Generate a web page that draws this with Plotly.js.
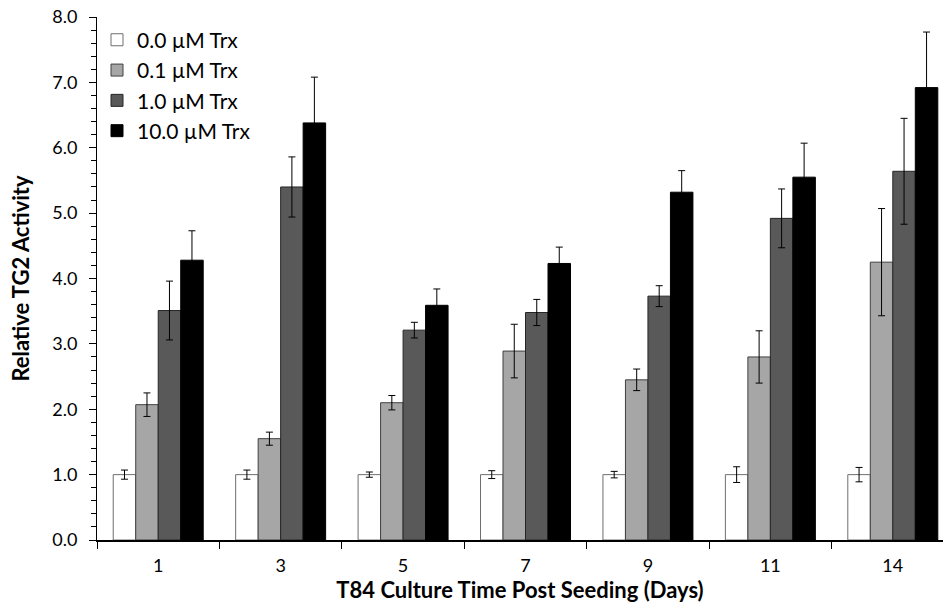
<!DOCTYPE html>
<html>
<head>
<meta charset="utf-8">
<script src="https://cdn.plot.ly/plotly-3.0.1.min.js"></script>
<style>html,body{margin:0;padding:0;background:#fff;}#chart{width:943px;height:612px;}</style>
</head>
<body>
<div id="chart"></div>
<script>
const days = ["1", "3", "5", "7", "9", "11", "14"];
const seriesNames = ["0.0 µM Trx", "0.1 µM Trx", "1.0 µM Trx", "10.0 µM Trx"];
const trx00 = [1.00, 1.00, 1.00, 1.00, 1.00, 1.00, 1.00];
const trx00err = [0.07, 0.07, 0.04, 0.06, 0.05, 0.12, 0.11];
const trx01 = [2.07, 1.55, 2.10, 2.89, 2.45, 2.80, 4.25];
const trx01err = [0.18, 0.10, 0.11, 0.41, 0.165, 0.40, 0.82];
const trx10 = [3.51, 5.40, 3.21, 3.48, 3.73, 4.92, 5.64];
const trx10err = [0.45, 0.46, 0.12, 0.20, 0.16, 0.45, 0.81];
const trx100 = [4.28, 6.38, 3.59, 4.23, 5.32, 5.55, 6.92];
const trx100err = [0.45, 0.70, 0.25, 0.25, 0.33, 0.52, 0.85];
const yTickVals = [0, 1, 2, 3, 4, 5, 6, 7, 8];

const values = [trx00, trx01, trx10, trx100];
const errors = [trx00err, trx01err, trx10err, trx100err];
const fills = ["#ffffff", "#a6a6a6", "#595959", "#000000"];
const outlines = ["#6e6e6e", "#404040", "#262626", "#000000"];

const traces = values.map((v, i) => ({
  type: "bar",
  name: seriesNames[i],
  x: days,
  y: v,
  legendgroup: "g" + i,
  marker: {color: fills[i], line: {color: outlines[i], width: 1}},
  error_y: {type: "data", array: errors[i], visible: true, color: "#000000", thickness: 1, width: 3.5}
}));

const font = "Lato, 'Open Sans', sans-serif";
const layout = {
  width: 943, height: 612,
  margin: {l: 97, r: 0, t: 17, b: 72},
  paper_bgcolor: "#ffffff", plot_bgcolor: "#ffffff",
  font: {family: font, color: "#000000", size: 18},
  barmode: "group",
  bargap: 0.265,
  bargroupgap: 0,
  showlegend: true,
  legend: {x: 0.0, y: 0.995, xanchor: "left", yanchor: "top", bgcolor: "rgba(0,0,0,0)",
           font: {family: font, size: 21, color: "#000000"}, tracegroupgap: 6, traceorder: "normal"},
  xaxis: {
    type: "category", range: [-0.5, 6.41],
    showline: true, linecolor: "#000000", linewidth: 2,
    ticks: "outside", tickson: "boundaries", ticklen: 7, tickcolor: "#000000", tickwidth: 1,
    ticklabelstandoff: 8,
    showgrid: false, zeroline: false,
    tickfont: {family: font, size: 18, color: "#000000"},
    title: {text: "<b>T84 Culture Time Post Seeding (Days)</b>", font: {family: font, size: 22, color: "#000000"}, standoff: 7}
  },
  xaxis2: {
    overlaying: "x", anchor: "y", side: "bottom", type: "linear", range: [-0.5, 6.41],
    showline: false, showgrid: false, zeroline: false,
    ticks: "inside", ticklen: 7, tickcolor: "#000000", tickwidth: 1,
    tickmode: "array", tickvals: [-0.5, 0.5, 1.5, 2.5, 3.5, 4.5, 5.5], showticklabels: false
  },
  yaxis: {
    range: [0, 8], showline: true, linecolor: "#000000", linewidth: 1,
    ticks: "outside", ticklen: 7, tickcolor: "#000000", tickwidth: 1,
    tickmode: "array", tickvals: yTickVals, tickformat: ".1f",
    ticklabelstandoff: 8,
    minor: {dtick: 0.2, ticks: "outside", ticklen: 5, tickcolor: "#000000", tickwidth: 1, showgrid: false},
    showgrid: false, zeroline: false,
    tickfont: {family: font, size: 18, color: "#000000"},
    title: {text: "<b>Relative TG2 Activity</b>", font: {family: font, size: 22, color: "#000000"}, standoff: 16}
  }
};

Plotly.newPlot("chart", traces, layout, {displayModeBar: false, staticPlot: true});
</script>
</body>
</html>
